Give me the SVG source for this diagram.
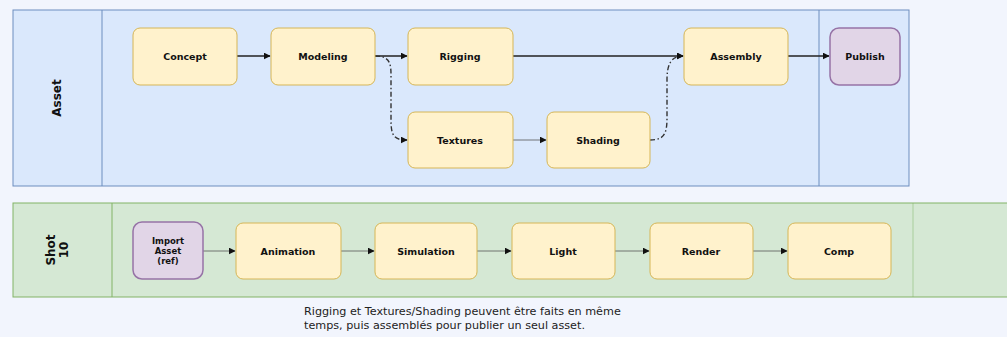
<svg xmlns="http://www.w3.org/2000/svg" width="1007" height="337" viewBox="0 0 1007 337">
<style>
.bg{fill:#f2f5fd}
.laneA{fill:#dae8fc;stroke:#6c8ebf;stroke-width:1}
.laneS{fill:#d5e8d4;stroke:#82b366;stroke-width:1}
.node{fill:#fff2cc;stroke:#d6b656;stroke-width:1}
.pnode{fill:#e1d5e7;stroke:#9673a6;stroke-width:1.5}
.lbl{font-family:"DejaVu Sans",Verdana,sans-serif;font-weight:bold;font-size:9.5px;fill:#111;text-anchor:middle;dominant-baseline:central}
.lane-lbl{font-family:"DejaVu Sans",Verdana,sans-serif;font-weight:bold;font-size:12px;fill:#111;text-anchor:middle}
.cap{font-family:"DejaVu Sans",Verdana,sans-serif;font-size:11.2px;fill:#222}
.c{fill:none;stroke:#222;stroke-width:1.5}
.cd{fill:none;stroke:#333;stroke-width:1.4;stroke-dasharray:5 2.5 1.5 2.5}
.ct{fill:none;stroke:#555;stroke-width:0.8}
</style>
<defs>
<marker id="ah" viewBox="0 0 10 10" refX="9" refY="5" markerWidth="7" markerHeight="7" orient="auto" markerUnits="userSpaceOnUse"><path d="M0,0 L10,5 L0,10 z" fill="#111"/></marker>
</defs>
<rect class="bg" x="0" y="0" width="1007" height="337"/>
<g id="lane-asset">
<rect class="laneA" x="13" y="10" width="896" height="176"/>
<line x1="102" y1="10" x2="102" y2="186" stroke="#6c8ebf"/>
<line x1="819" y1="10" x2="819" y2="186" stroke="#6c8ebf"/>
<text class="lane-lbl" transform="translate(61,98) rotate(-90)">Asset</text>
</g>
<g id="lane-shot">
<rect class="laneS" x="13" y="203" width="1000" height="94"/>
<line x1="112" y1="203" x2="112" y2="297" stroke="#82b366"/>
<line x1="913" y1="203" x2="913" y2="297" stroke="#82b366" stroke-opacity="0.5"/>
<text class="lane-lbl" transform="translate(55,250) rotate(-90)"><tspan x="0" dy="0">Shot</tspan><tspan x="0" dy="13">10</tspan></text>
</g>
<g id="connectors">
<line class="c" x1="237" y1="56" x2="270" y2="56" marker-end="url(#ah)"/>
<line class="c" x1="375" y1="56" x2="407" y2="56" marker-end="url(#ah)"/>
<line class="c" x1="513" y1="56" x2="683" y2="56" marker-end="url(#ah)"/>
<line class="c" x1="788" y1="56" x2="829" y2="56" marker-end="url(#ah)"/>
<path class="cd" d="M375,56 C392,56 391,66 391,80 L391,120 C391,136 394,140 407,140" marker-end="url(#ah)"/>
<path class="cd" d="M650,140 C664,140 667,134 667,118 L667,80 C667,66 670,56 683,56" marker-end="url(#ah)"/>
<line class="ct" x1="513" y1="140" x2="546" y2="140" marker-end="url(#ah)"/>
<line class="ct" x1="203" y1="251" x2="235" y2="251" marker-end="url(#ah)"/>
<line class="ct" x1="341" y1="251" x2="374" y2="251" marker-end="url(#ah)"/>
<line class="ct" x1="477" y1="251" x2="511" y2="251" marker-end="url(#ah)"/>
<line class="ct" x1="615" y1="251" x2="649" y2="251" marker-end="url(#ah)"/>
<line class="ct" x1="753" y1="251" x2="787" y2="251" marker-end="url(#ah)"/>
</g>
<g id="concept"><rect class="node" x="133" y="28" width="104" height="57" rx="7"/><text class="lbl" x="185" y="56">Concept</text></g>
<g id="modeling"><rect class="node" x="271" y="28" width="104" height="57" rx="7"/><text class="lbl" x="323" y="56">Modeling</text></g>
<g id="rigging"><rect class="node" x="408" y="28" width="105" height="57" rx="7"/><text class="lbl" x="460" y="56">Rigging</text></g>
<g id="assembly"><rect class="node" x="684" y="28" width="104" height="57" rx="7"/><text class="lbl" x="736" y="56">Assembly</text></g>
<g id="publish"><rect class="pnode" x="830" y="28" width="70" height="57" rx="9"/><text class="lbl" x="865" y="56">Publish</text></g>
<g id="textures"><rect class="node" x="408" y="112" width="105" height="56" rx="7"/><text class="lbl" x="460" y="140">Textures</text></g>
<g id="shading"><rect class="node" x="547" y="112" width="103" height="56" rx="7"/><text class="lbl" x="598" y="140">Shading</text></g>
<g id="import-asset"><rect class="pnode" x="133" y="222" width="70" height="57" rx="9"/><text class="lbl" x="168" y="251" style="font-size:8.5px"><tspan x="168" dy="-10">Import</tspan><tspan x="168" dy="10">Asset</tspan><tspan x="168" dy="10">(ref)</tspan></text></g>
<g id="animation"><rect class="node" x="236" y="223" width="105" height="56" rx="7"/><text class="lbl" x="288" y="251">Animation</text></g>
<g id="simulation"><rect class="node" x="375" y="223" width="102" height="56" rx="7"/><text class="lbl" x="426" y="251">Simulation</text></g>
<g id="light"><rect class="node" x="512" y="223" width="103" height="56" rx="7"/><text class="lbl" x="563" y="251">Light</text></g>
<g id="render"><rect class="node" x="650" y="223" width="103" height="56" rx="7"/><text class="lbl" x="701" y="251">Render</text></g>
<g id="comp"><rect class="node" x="788" y="223" width="103" height="56" rx="7"/><text class="lbl" x="839" y="251">Comp</text></g>
<g id="caption">
<text class="cap" x="304" y="315">Rigging et Textures/Shading peuvent être faits en même</text>
<text class="cap" x="304" y="329">temps, puis assemblés pour publier un seul asset.</text>
</g>
</svg>
